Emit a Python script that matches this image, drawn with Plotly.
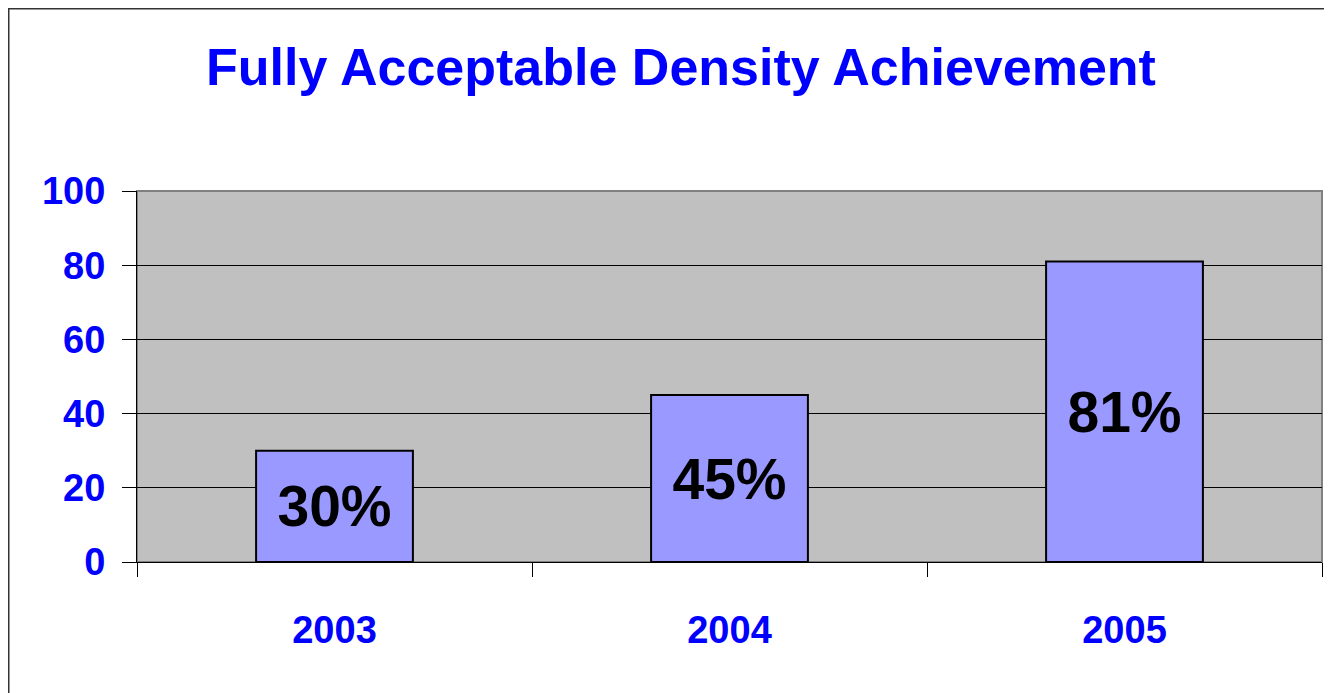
import plotly.graph_objects as go

years = ["2003", "2004", "2005"]
values = [30, 45, 81]
labels = ["30%", "45%", "81%"]
y_ticks = [0, 20, 40, 60, 80, 100]

BLUE = "#0000FF"
FONT = "Liberation Sans, Arial, sans-serif"

W, H = 1324, 685
L, R, T, B = 129, 10, 183, 131
PW = W - L - R
PH = H - T - B

fig = go.Figure()
fig.add_trace(go.Bar(
    x=years, y=values, text=labels,
    textposition="inside", insidetextanchor="middle",
    textfont=dict(family=FONT, size=57, color="black", weight="bold"),
    marker=dict(color="#9999FF", line=dict(color="black", width=2)),
    width=0.397, constraintext="none",
    hoverinfo="skip",
))

fig.update_layout(
    width=W, height=H,
    margin=dict(l=L, r=R, t=T, b=B),
    paper_bgcolor="white", plot_bgcolor="#C0C0C0",
    showlegend=False,
    title=dict(text="<b>Fully Acceptable Density Achievement</b>",
               font=dict(family=FONT, size=52, color=BLUE),
               x=(681 - 8) / W, xanchor="center", y=1 - 59 / H, yanchor="middle",
               yref="container"),
    xaxis=dict(type="category", showgrid=False, tickson="boundaries",
               ticks="outside", ticklen=14, tickcolor="black", tickwidth=1,
               showline=True, linecolor="black", linewidth=1,
               tickfont=dict(family=FONT, size=38, color=BLUE, weight="bold"),
               ticklabelstandoff=34, range=[-0.5, 2.5]),
    yaxis=dict(range=[0, 100], tickvals=y_ticks, showgrid=True, gridcolor="black", gridwidth=1,
               ticks="outside", ticklen=14, tickcolor="black", tickwidth=1,
               showline=True, linecolor="black", linewidth=1, zeroline=False,
               tickfont=dict(family=FONT, size=38, color=BLUE, weight="bold"),
               ticklabelstandoff=9),
    shapes=[
        dict(type="rect", xref="paper", yref="paper", x0=0, x1=1, y0=0, y1=1,
             line=dict(color="#808080", width=2), layer="below"),
        dict(type="rect", xref="paper", yref="paper",
             x0=(0.5 - L) / PW, x1=(W + 20 - L) / PW,
             y0=-(B + 20) / PH, y1=1 + (T - 0.5) / PH,
             line=dict(color="#333333", width=2), layer="below"),
    ],
)

fig.write_html("out.html")
